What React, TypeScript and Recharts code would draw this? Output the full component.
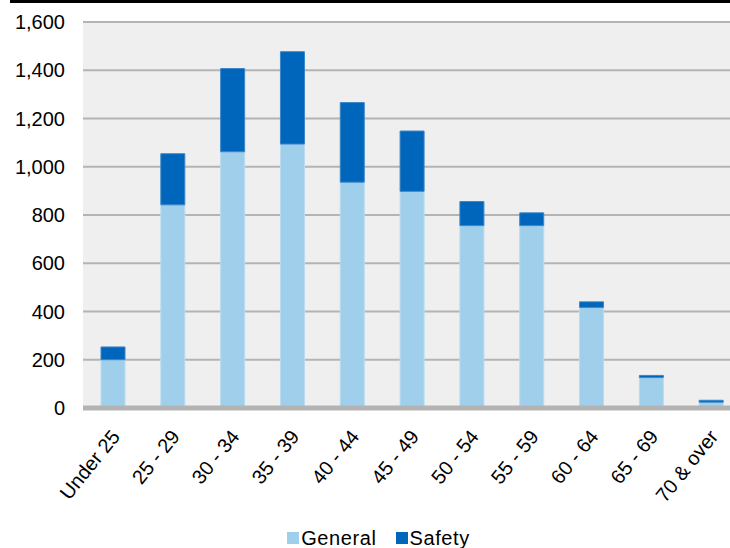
import React from 'react';
import { BarChart, Bar, XAxis, YAxis, CartesianGrid, Legend } from 'recharts';

const ageGroups = ['Under 25', '25 - 29', '30 - 34', '35 - 39', '40 - 44', '45 - 49', '50 - 54', '55 - 59', '60 - 64', '65 - 69', '70 & over'];
const general = [200, 842, 1062, 1094, 936, 898, 756, 756, 417, 126, 24];
const safety = [53, 212, 345, 383, 330, 250, 100, 53, 23, 9, 8];
const yTicks = [0, 200, 400, 600, 800, 1000, 1200, 1400, 1600];

const LIGHT = '#a0cfeb';
const DARK = '#0066bb';
const FONT = '"Liberation Sans", Arial, sans-serif';

const data = ageGroups.map((group, i) => ({ group, General: general[i], Safety: safety[i] }));

const AgeTick = (props: any) => {
  const { x, y, payload } = props;
  const tx = x + 8;
  const ty = y + 29;
  return (
    <text x={tx} y={ty} textAnchor="end" fontSize={20} fill="#000" fontFamily={FONT} transform={`rotate(-51, ${tx}, ${ty})`}>
      {payload.value}
    </text>
  );
};

// legend drawn by hand so the swatch spacing can be set exactly
const LegendBox = () => (
  <div style={{ display: 'flex', justifyContent: 'center', alignItems: 'center', height: 26, paddingLeft: 16, fontFamily: FONT, fontSize: 20, letterSpacing: 0.6, color: '#000', transform: 'translateY(3px)' }}>
    {[
      { name: 'General', color: LIGHT },
      { name: 'Safety', color: DARK },
    ].map((item, i) => (
      <span key={item.name} style={{ display: 'flex', alignItems: 'center', marginRight: i === 0 ? 19 : 0 }}>
        <span style={{ display: 'inline-block', width: 12, height: 12, background: item.color, marginRight: 2 }} />
        {item.name}
      </span>
    ))}
  </div>
);

export default function App() {
  return (
    <div style={{ position: 'absolute', left: 0, top: 0, width: 730, height: 548, overflow: 'hidden', background: '#fff' }}>
      <div style={{ position: 'absolute', left: 10, top: 0, width: 720, height: 3, background: '#000' }} />
      <BarChart width={741} height={548} data={data} margin={{ top: 22, right: 0, bottom: 0, left: 0 }} barSize={24}>
        <CartesianGrid vertical={false} fill="#efefef" stroke="#b4b4b4" strokeWidth={2} />
        <XAxis
          dataKey="group"
          interval={0}
          height={114}
          tickLine={false}
          tickSize={0}
          tickMargin={0}
          axisLine={{ stroke: '#b3b3b3', strokeWidth: 5 }}
          tick={<AgeTick />}
        />
        <YAxis
          width={83}
          domain={[0, 1600]}
          ticks={yTicks}
          interval={0}
          axisLine={false}
          tickLine={false}
          tickSize={0}
          tickMargin={18}
          tick={{ fontSize: 20, fill: '#000', fontFamily: FONT }}
          tickFormatter={(v: number) => v.toLocaleString('en-US')}
        />
        <Legend verticalAlign="bottom" content={<LegendBox />} wrapperStyle={{ height: 26 }} />
        <Bar dataKey="General" stackId="a" fill={LIGHT} stroke="#b8dcf1" strokeWidth={1} isAnimationActive={false} />
        <Bar dataKey="Safety" stackId="a" fill={DARK} stroke="#3a86c8" strokeWidth={1} isAnimationActive={false} />
      </BarChart>
    </div>
  );
}
